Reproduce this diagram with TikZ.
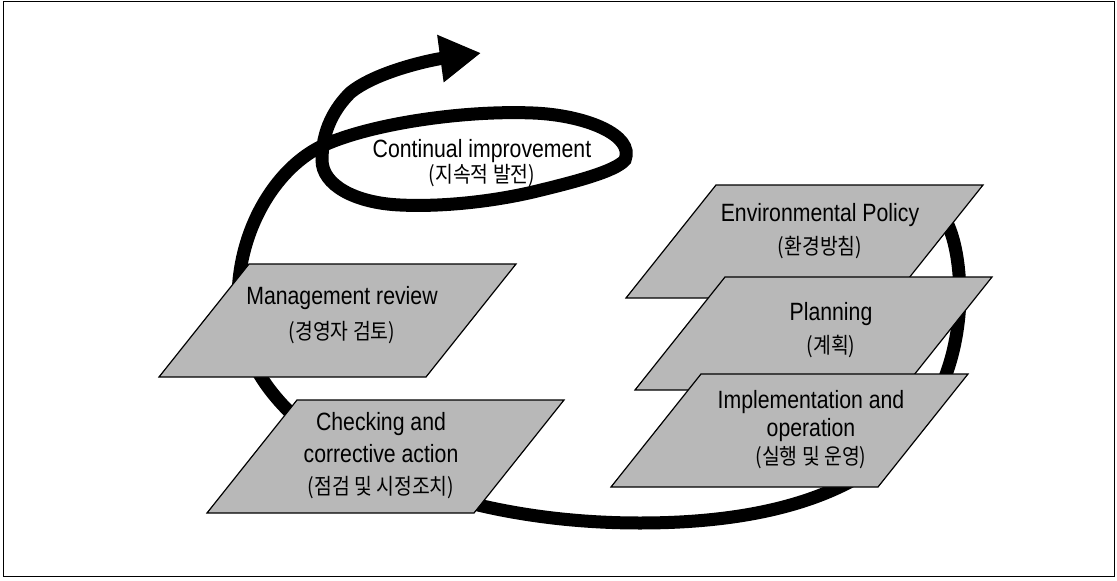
\documentclass[tikz,border=0pt]{standalone}
\usepackage{fontspec}
\setmainfont{Liberation Sans}[FakeStretch=0.85]
\newfontfamily\kr{Noto Sans CJK KR}[Scale=0.88,FakeStretch=0.88]
\usetikzlibrary{arrows.meta}
\definecolor{platefill}{gray}{0.72}
\tikzset{
  plate/.style={fill=platefill, draw=black, line width=1.2pt, line join=miter},
  ring/.style={line width=13pt, draw=black},
  lbl/.style={align=center, inner sep=0pt, font=\fontsize{25}{33}\selectfont},
  frame/.style={draw=black, line width=1.5pt},
}
\newcommand\plate[1]{\draw[plate] (#1) -- ++(267,0) -- ++(-90,113) -- ++(-267,0) -- cycle;}
\begin{document}
\begin{tikzpicture}[x=1pt,y=-1pt]
\useasboundingbox (0,0) rectangle (1117,581);
\draw[frame] (3.5,1.5) rectangle (1114.5,576.5);

% improvement cycle with spiral and arrow
\coordinate (start) at (935,205);
\coordinate (tip) at (481,53);
\draw[ring, -{Triangle[length=41pt,width=45pt]}]
  (start) .. controls (955,225) and (960,265) .. (960,300)
  .. controls (955,420) and (880,523) .. (640,523)
  .. controls (420,523) and (238,430) .. (238,300)
  .. controls (238,230) and (275,170) .. (320,147)
  .. controls (365,125) and (460,110) .. (533,113)
  .. controls (585,115) and (635,135) .. (625,160)
  .. controls (615,172) and (570,183) .. (533,192)
  .. controls (490,202) and (440,207) .. (400,205)
  .. controls (355,203) and (322,185) .. (322,160)
  .. controls (322,130) and (335,108) .. (350,93)
  .. controls (375,72) and (430,60) .. (tip);

% plates
\plate{716,185}
\plate{725,277}
\plate{701,374}
\plate{249,264}
\plate{297,400}

% labels
\node[lbl, font=\fontsize{25}{23}\selectfont] (cont) at (482,163) {Continual improvement\\{\kr (지속적 발전)}};
\node[lbl] (env) at (820,231) {Environmental Policy\\{\kr (환경방침)}};
\node[lbl] (plan) at (831,330) {Planning\\{\kr (계획)}};
\node[lbl, font=\fontsize{25}{28}\selectfont] (impl) at (811,430) {Implementation and\\operation\\{\kr (실행 및 운영)}};
\node[lbl, font=\fontsize{25}{35}\selectfont] (mgmt) at (342,315) {Management review\\{\kr (경영자 검토)}};
\node[lbl, font=\fontsize{25}{32}\selectfont] (check) at (381,456) {Checking and\\corrective action\\{\kr (점검 및 시정조치)}};
\end{tikzpicture}
\end{document}
